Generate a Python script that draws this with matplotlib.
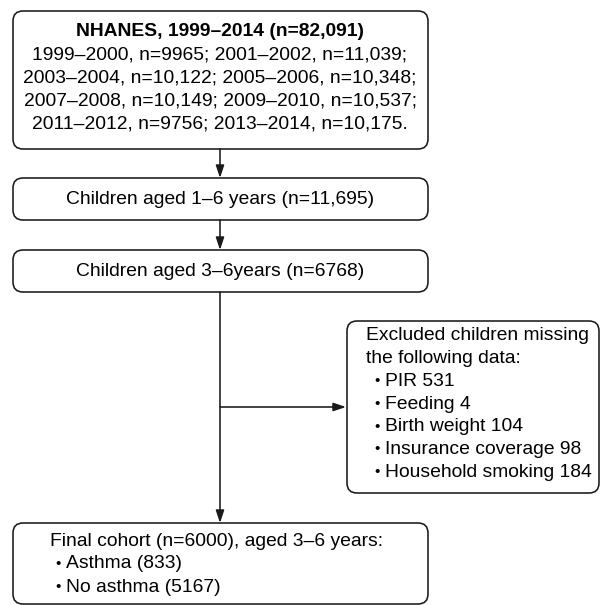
import matplotlib
matplotlib.use("Agg")
import matplotlib.pyplot as plt
from matplotlib.patches import FancyBboxPatch

plt.rcParams['font.family'] = ['Liberation Sans', 'DejaVu Sans']

# ---- data ----
title_top = "NHANES, 1999–2014 (n=82,091)"
cycles = ["1999–2000", "2001–2002", "2003–2004", "2005–2006",
          "2007–2008", "2009–2010", "2011–2012", "2013–2014"]
cycle_n = ["9965", "11,039", "10,122", "10,348", "10,149", "10,537", "9756", "10,175"]
step2 = "Children aged 1–6 years (n=11,695)"
step3 = "Children aged 3–6years (n=6768)"
excl_head = ["Excluded children missing", "the following data:"]
excl_items = ["PIR 531", "Feeding 4", "Birth weight 104", "Insurance coverage 98", "Household smoking 184"]
final_head = "Final cohort (n=6000), aged 3–6 years:"
final_items = ["Asthma (833)", "No asthma (5167)"]

W, H = 603, 605
fig = plt.figure(figsize=(W / 100, H / 100), dpi=100)
ax = fig.add_axes([0, 0, 1, 1])
ax.set_xlim(0, W)
ax.set_ylim(H, 0)
ax.axis('off')

FS = 13.9
LW = 1.15
EC = '#1a1a1a'

def box(x0, y0, x1, y1):
    p = FancyBboxPatch((x0, y0), x1 - x0, y1 - y0,
                       boxstyle="round,pad=0,rounding_size=10",
                       fc='white', ec=EC, lw=LW)
    ax.add_patch(p)

def arrow(x0, y0, x1, y1):
    ax.annotate("", xy=(x1, y1), xytext=(x0, y0),
                arrowprops=dict(arrowstyle="-|>,head_length=0.75,head_width=0.25",
                                color=EC, lw=LW, shrinkA=0, shrinkB=0))

def bullet_line(xb, xt, y, t):
    ax.text(xb, y, "•", ha='left', va='center', fontsize=FS * 0.8)
    ax.text(xt, y, t, ha='left', va='center', fontsize=FS)

cx = 220
# Box 1
box(13, 11, 428, 149)
ax.text(cx, 31, title_top, ha='center', va='center', fontsize=FS, fontweight='bold')
lines = []
for i in range(0, len(cycles), 2):
    a = f"{cycles[i]}, n={cycle_n[i]}; {cycles[i+1]}, n={cycle_n[i+1]}"
    a += "." if i + 2 >= len(cycles) else ";"
    lines.append(a)
for j, ln in enumerate(lines):
    ax.text(cx, 55.5 + j * 22.8, ln, ha='center', va='center', fontsize=FS)

# Box 2
arrow(cx, 149, cx, 178)
box(13, 178, 428, 220)
ax.text(cx, 199, step2, ha='center', va='center', fontsize=FS)

# Box 3
arrow(cx, 220, cx, 250)
box(13, 250, 428, 292)
ax.text(cx, 271, step3, ha='center', va='center', fontsize=FS)

# vertical line to final + branch
arrow(cx, 292, cx, 523)
arrow(cx, 407, 346, 407)

# Excluded box
box(347, 321, 599, 493)
ey = 336
for t in excl_head:
    ax.text(366, ey, t, ha='left', va='center', fontsize=FS)
    ey += 22.7
for t in excl_items:
    bullet_line(374, 385, ey, t)
    ey += 22.7

# Final box
box(13, 523, 428, 604)
ax.text(50, 541, final_head, ha='left', va='center', fontsize=FS)
fy = 564
for t in final_items:
    bullet_line(55, 66, fy, t)
    fy += 23

fig.savefig("out.png", dpi=100)
